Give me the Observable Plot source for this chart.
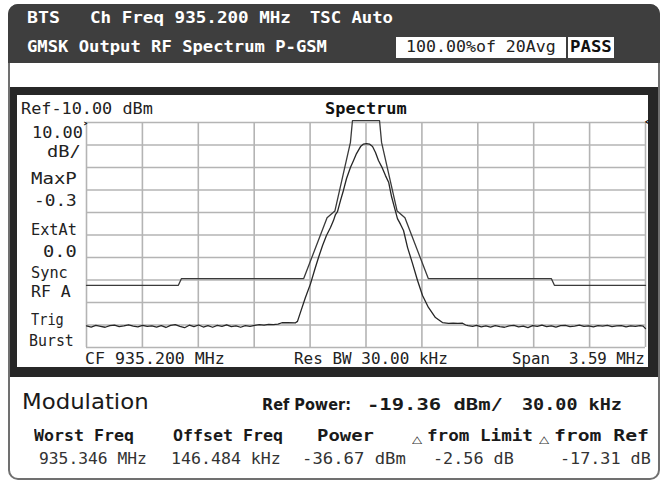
<!DOCTYPE html>
<html><head><meta charset="utf-8">
<script src="https://cdn.jsdelivr.net/npm/d3@7"></script>
<script src="https://cdn.jsdelivr.net/npm/@observablehq/plot@0.6"></script>
<style>
html,body{margin:0;padding:0;background:#fff;width:664px;height:485px;overflow:hidden}
#root{position:relative;width:664px;height:485px}
.abs{position:absolute;box-sizing:border-box}
.t{position:absolute;white-space:pre;line-height:1;transform-origin:0 0;margin:0;padding:0}
</style></head><body><div id="root">
<div class="abs" style="left:8px;top:4px;width:652px;height:476px;border:2px solid #707070;border-radius:10px;background:#fff"></div>
<div class="abs" style="left:8px;top:4px;width:652px;height:59px;background:#3e3e3e;border-radius:10px 10px 0 0"></div>
<div class="abs" style="left:396px;top:37px;width:170px;height:21px;background:#fff"></div>
<div class="abs" style="left:568px;top:37px;width:46px;height:21px;background:#fff"></div>
<div class="abs" style="left:10px;top:87px;width:648px;height:290px;background:#272727"></div>
<div class="abs" style="left:17px;top:95px;width:631px;height:272px;background:#fff"></div>
<div class="abs" id="chart" style="left:17px;top:95px;width:631px;height:272px"></div>
</div>
<script>
// ---- instrument settings ----
const centerFreqMHz = 935.2;
const spanKHz = [-1795, 1795];          // 3.59 MHz span, offsets from CF (kHz)
const levelRange = [-110, -10];         // Ref -10 dBm, 10 dB/div
const xGrid = [-1795, -1436, -1077, -718, -359, 0, 359, 718, 1077, 1436, 1795];
const yGrid = [-10, -20, -30, -40, -50, -60, -70, -80, -90, -100, -110];

// ---- limit mask [offset kHz, dBm] ----
const limitMask = [
  [-1795, -82.36], [-1205, -82.36], [-1185, -79.36], [-400, -79.36],
  [-250, -52.36], [-200, -49.36], [-100, -18.86], [-87, -9.2],
  [87, -9.2], [100, -18.86], [200, -49.36], [250, -52.36],
  [400, -79.36], [1190, -79.36], [1210, -82.36], [1795, -82.36]
];

// ---- measured spectrum trace [offset kHz, dBm] ----
const floorLeft = [
  [-1795,-100.4],[-1765,-100.9],[-1735,-100.2],[-1705,-100.6],[-1675,-101.0],[-1645,-100.3],
  [-1615,-100.1],[-1585,-100.7],[-1555,-100.4],[-1525,-99.9],[-1495,-100.5],[-1465,-100.8],
  [-1435,-100.2],[-1405,-100.6],[-1375,-100.4],[-1345,-100.9],[-1315,-100.3],[-1285,-101.1],
  [-1255,-100.2],[-1225,-99.8],[-1195,-100.6],[-1165,-101.2],[-1135,-100.1],[-1105,-100.7],
  [-1075,-100.0],[-1045,-100.9],[-1015,-100.3],[-985,-101.0],[-955,-100.2],[-925,-100.6],
  [-895,-99.9],[-865,-100.7],[-835,-100.4],[-805,-101.0],[-775,-100.3],[-745,-100.6],
  [-715,-100.2],[-685,-99.8],[-655,-100.1],[-625,-99.7],[-595,-99.8],[-565,-99.6],
  [-540,-99.0],[-500,-98.9],[-455,-99.1]
];
const mainLobe = [
  [-440,-98.4],[-421,-94.4],[-389,-87.8],[-356,-81.6],[-331,-75.8],[-305,-70.0],
  [-279,-64.7],[-254,-60.2],[-228,-56.7],[-209,-53.6],[-196,-50.9],[-183,-49.6],
  [-164,-44.7],[-145,-40.2],[-125,-34.9],[-100,-30.0],[-80,-26.9],[-61,-23.8],
  [-35,-20.7],[-16,-19.6],[3,-19.36],[22,-19.6],[42,-20.7],[61,-23.3],
  [80,-26.9],[106,-30.4],[125,-33.6],[146,-36.67],[164,-42.9],[183,-47.8],
  [202,-52.7],[222,-55.3],[241,-58.0],[267,-65.6],[299,-72.7],[331,-80.2],
  [363,-86.9],[401,-92.2],[446,-96.7],[491,-98.9],[530,-99.3],[560,-99.2],
  [590,-99.3],[620,-99.2],[640,-100.0]
];
const floorRight = [
  [655,-100.3],[685,-100.6],[710,-100.2],[740,-100.8],[770,-100.4],[800,-100.9],
  [830,-100.3],[860,-100.7],[890,-101.0],[920,-100.4],[950,-100.2],[980,-100.8],
  [1010,-100.5],[1040,-101.2],[1070,-100.3],[1100,-100.6],[1130,-100.1],[1160,-100.7],
  [1190,-100.4],[1220,-100.9],[1250,-100.3],[1280,-100.2],[1310,-100.7],[1340,-100.5],
  [1370,-100.1],[1400,-100.6],[1430,-100.4],[1460,-100.8],[1490,-100.3],[1520,-100.5],
  [1550,-100.2],[1580,-100.7],[1610,-100.4],[1640,-100.3],[1670,-100.8],[1700,-100.4],
  [1730,-100.6],[1760,-100.3],[1780,-100.5],[1795,-101.6]
];
const trace = floorLeft.concat(mainLobe, floorRight);

// ---- texts ----
const headerLine1 = ["BTS", "Ch Freq 935.200 MHz", "TSC Auto"];
const headerLine2 = "GMSK Output RF Spectrum P-GSM";
const avgText = "100.00%of 20Avg";
const verdict = "PASS";
const sideLabels = ["Ref-10.00 dBm", "10.00", "dB/", "MaxP", "-0.3", "ExtAt", "0.0", "Sync", "RF A", "Trig", "Burst"];
const footLabels = ["CF 935.200 MHz", "Res BW 30.00 kHz", "Span  3.59 MHz"];
const resultTitle = "Modulation";
const refPower = ["Ref Power:", "-19.36 dBm/", "30.00 kHz"];
const colHeads = ["Worst Freq", "Offset Freq", "Power", "from Limit", "from Ref"];
const colValues = ["935.346 MHz", "146.484 kHz", "-36.67 dBm", "-2.56 dB", "-17.31 dB"];

const chart = Plot.plot({
  width: 631, height: 272,
  marginLeft: 69, marginRight: 3, marginTop: 27, marginBottom: 20,
  x: {domain: spanKHz, axis: null},
  y: {domain: levelRange, axis: null},
  style: {background: "transparent", overflow: "visible"},
  marks: [
    Plot.ruleX(xGrid, {stroke: "#b4b4b4", strokeWidth: 1.6}),
    Plot.ruleY(yGrid, {stroke: "#b4b4b4", strokeWidth: 1.6}),
    Plot.line(limitMask, {x: d => d[0], y: d => d[1], stroke: "#3a3a3a", strokeWidth: 1.3}),
    Plot.line(trace, {x: d => d[0], y: d => d[1], stroke: "#262626", strokeWidth: 1.3})
  ]
});
document.getElementById("chart").appendChild(chart);

const root = document.getElementById("root");
const MONO = "'DejaVu Sans Mono', monospace";
function txt(s, x0, x1, cy, fs, family, weight, color) {
  const el = document.createElement("div");
  el.className = "t";
  el.textContent = s;
  el.style.fontFamily = family;
  el.style.fontSize = fs + "px";
  el.style.fontWeight = weight;
  el.style.color = color;
  root.appendChild(el);
  const w = el.getBoundingClientRect().width;
  const pad = 0.06 * fs;
  el.style.left = (x0 - pad) + "px";
  el.style.top = (cy - 0.48 * fs) + "px";
  el.style.transform = `scaleX(${((x1 - x0) + 2 * pad) / w})`;
}
// header
txt(headerLine1[0], 28, 59, 18, 16, MONO, "bold", "#fff");
txt(headerLine1[1], 91, 290, 18, 16, MONO, "bold", "#fff");
txt(headerLine1[2], 311, 392, 18, 16, MONO, "bold", "#fff");
txt(headerLine2, 28, 326, 47, 16, MONO, "bold", "#fff");
txt(avgText, 407, 555, 47, 15, MONO, "normal", "#222");
txt(verdict, 571, 611, 47, 15, MONO, "bold", "#111");
// panel labels
txt(sideLabels[0], 22, 152, 109, 15, MONO, "normal", "#222");
txt("Spectrum", 326, 406, 109, 15, MONO, "bold", "#111");
txt(sideLabels[1], 33, 82, 133, 15, MONO, "normal", "#222");
txt(sideLabels[2], 48, 80, 152, 15, MONO, "normal", "#222");
txt(sideLabels[3], 32, 76, 179, 15, MONO, "normal", "#222");
txt(sideLabels[4], 35, 76, 201, 15, MONO, "normal", "#222");
txt(sideLabels[5], 32, 76, 230, 15, MONO, "normal", "#222");
txt(sideLabels[6], 44, 76, 252, 15, MONO, "normal", "#222");
txt(sideLabels[7], 32, 67, 273, 15, MONO, "normal", "#222");
txt(sideLabels[8], 32, 70, 292, 15, MONO, "normal", "#222");
txt(sideLabels[9], 32, 63, 320, 15, MONO, "normal", "#222");
txt(sideLabels[10], 30, 73, 341, 15, MONO, "normal", "#222");
txt(footLabels[0], 86, 224, 359, 15, MONO, "normal", "#222");
txt(footLabels[1], 295, 447, 359, 15, MONO, "normal", "#222");
txt(footLabels[2], 513, 644, 359, 15, MONO, "normal", "#222");
txt("\u203A", 84, 88, 123, 9, "'DejaVu Sans'", "bold", "#111");
txt("\u2039", 645, 650, 122, 10, "'DejaVu Sans'", "bold", "#111");
// results
txt(resultTitle, 23, 147, 402, 22, "'DejaVu Sans'", "normal", "#1a1a1a");
txt(refPower[0], 263, 350, 405, 16, "'DejaVu Sans'", "bold", "#1a1a1a");
txt(refPower[1], 368, 502, 405, 16, MONO, "bold", "#1a1a1a");
txt(refPower[2], 523, 621, 405, 16, MONO, "bold", "#1a1a1a");
txt(colHeads[0], 35, 133, 436, 16, MONO, "bold", "#1a1a1a");
txt(colHeads[1], 174, 282, 436, 16, MONO, "bold", "#1a1a1a");
txt(colHeads[2], 318, 373, 436, 16, MONO, "bold", "#1a1a1a");
txt("\u25B3", 413, 422, 440, 10, "'DejaVu Sans'", "normal", "#333");
txt(colHeads[3], 428, 532, 436, 16, MONO, "bold", "#1a1a1a");
txt("\u25B3", 540, 549, 440, 10, "'DejaVu Sans'", "normal", "#333");
txt(colHeads[4], 555, 648, 436, 16, MONO, "bold", "#1a1a1a");
txt(colValues[0], 40, 146, 459, 15, MONO, "normal", "#333");
txt(colValues[1], 172, 280, 459, 15, MONO, "normal", "#333");
txt(colValues[2], 303, 405, 459, 15, MONO, "normal", "#333");
txt(colValues[3], 434, 513, 459, 15, MONO, "normal", "#333");
txt(colValues[4], 561, 650, 459, 15, MONO, "normal", "#333");
</script>
</body></html>
